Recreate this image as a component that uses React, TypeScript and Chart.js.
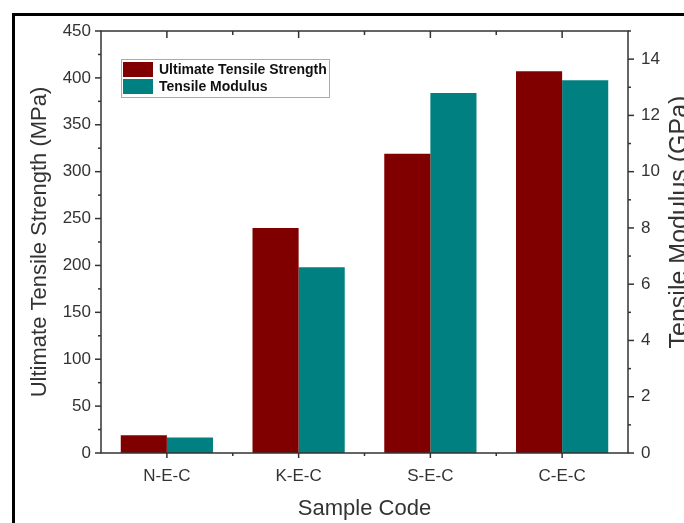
import { useEffect, useRef } from 'react';
import { Chart, registerables } from 'chart.js';

Chart.register(...registerables);

const CATEGORIES = ['N-E-C', 'K-E-C', 'S-E-C', 'C-E-C'];
const UTS_LABEL = 'Ultimate Tensile Strength';
const MODULUS_LABEL = 'Tensile Modulus';
const UTS_VALUES = [19, 240, 319, 407];
const MODULUS_VALUES = [0.55, 6.6, 12.8, 13.25];

const LEFT_TICKS = [0, 50, 100, 150, 200, 250, 300, 350, 400, 450];
const LEFT_MINOR = [25, 75, 125, 175, 225, 275, 325, 375, 425];
const RIGHT_TICKS = [0, 2, 4, 6, 8, 10, 12, 14];
const RIGHT_MINOR = [1, 3, 5, 7, 9, 11, 13, 15];

const LEFT_TITLE = 'Ultimate Tensile Strength (MPa)';
const RIGHT_TITLE = 'Tensile Modulus (GPa)';
const X_TITLE = 'Sample Code';

const RED = '#800000';
const TEAL = '#008080';
const AXIS = '#333333';
const TEXT = '#333333';
const FONT = "'Liberation Sans', Arial, sans-serif";

const framePlugin = {
  id: 'frameTicks',
  afterDatasetsDraw(chart: any) {
    const { ctx, chartArea, scales } = chart;
    const { left, right, top, bottom } = chartArea;
    ctx.save();
    ctx.strokeStyle = AXIS;
    ctx.lineWidth = 1.5;
    const line = (x1: number, y1: number, x2: number, y2: number) => {
      ctx.beginPath();
      ctx.moveTo(x1, y1);
      ctx.lineTo(x2, y2);
      ctx.stroke();
    };
    ctx.strokeRect(left, top, right - left, bottom - top);
    const y = scales.y;
    LEFT_TICKS.forEach((v) => { const p = y.getPixelForValue(v); line(left - 6, p, left, p); });
    LEFT_MINOR.forEach((v) => { const p = y.getPixelForValue(v); line(left - 3, p, left, p); });
    const y1 = scales.y1;
    RIGHT_TICKS.forEach((v) => { const p = y1.getPixelForValue(v); line(right, p, right + 6, p); });
    RIGHT_MINOR.forEach((v) => { const p = y1.getPixelForValue(v); line(right, p, right + 3, p); });
    const x = scales.x;
    CATEGORIES.forEach((_, i) => {
      const p = x.getPixelForValue(i);
      line(p, bottom, p, bottom + 5);
      line(p, top, p, top + 7);
    });
    for (let i = 0; i < CATEGORIES.length - 1; i++) {
      const p = x.getPixelForValue(i + 0.5);
      line(p, bottom, p, bottom + 3);
      line(p, top, p, top + 4);
    }

    // legend
    const bx = left + 20;
    const by = top + 28;
    ctx.lineWidth = 1;
    ctx.strokeStyle = '#aaaaaa';
    ctx.strokeRect(bx + 0.5, by + 0.5, 208, 38);
    ctx.font = `bold 14px ${FONT}`;
    ctx.textBaseline = 'middle';
    ctx.textAlign = 'left';
    chart.data.datasets.forEach((ds: any, i: number) => {
      const sy = by + 3 + i * 17;
      ctx.fillStyle = ds.backgroundColor;
      ctx.fillRect(bx + 2, sy, 30, 15);
      ctx.fillStyle = '#111111';
      ctx.fillText(ds.label, bx + 38, sy + 8);
    });

    // right axis title (reads bottom-to-top)
    ctx.save();
    ctx.translate(687, 222);
    ctx.rotate(-Math.PI / 2);
    ctx.font = `25px ${FONT}`;
    ctx.fillStyle = TEXT;
    ctx.textAlign = 'center';
    ctx.textBaseline = 'alphabetic';
    ctx.fillText(RIGHT_TITLE, 0, 0);
    ctx.restore();

    ctx.restore();
  },
};

export default function App() {
  const ref = useRef<HTMLCanvasElement | null>(null);

  useEffect(() => {
    if (!ref.current) return;
    const tickFont = { family: FONT, size: 17 };
    const titleFont = { family: FONT, size: 22 };
    const chart = new Chart(ref.current, {
      type: 'bar',
      data: {
        labels: CATEGORIES,
        datasets: [
          {
            label: UTS_LABEL,
            data: UTS_VALUES,
            backgroundColor: RED,
            yAxisID: 'y',
            categoryPercentage: 0.7,
            barPercentage: 1,
          },
          {
            label: MODULUS_LABEL,
            data: MODULUS_VALUES,
            backgroundColor: TEAL,
            yAxisID: 'y1',
            categoryPercentage: 0.7,
            barPercentage: 1,
          },
        ],
      },
      options: {
        animation: false,
        responsive: false,
        maintainAspectRatio: false,
        layout: { padding: { left: 0, right: 0, top: 31, bottom: 0 } },
        plugins: { legend: { display: false }, tooltip: { enabled: false } },
        scales: {
          x: {
            type: 'category',
            offset: true,
            grid: { display: false, drawTicks: false },
            border: { display: false },
            ticks: { font: tickFont, color: TEXT, padding: 13 },
            title: { display: true, text: X_TITLE, font: titleFont, color: TEXT, padding: { top: 0, bottom: 1 } },
            afterFit: (s: any) => { s.height = 70; },
          },
          y: {
            type: 'linear',
            position: 'left',
            min: 0,
            max: 450,
            afterBuildTicks: (s: any) => { s.ticks = LEFT_TICKS.map((v) => ({ value: v })); },
            grid: { display: false, drawTicks: false },
            border: { display: false },
            ticks: { font: tickFont, color: TEXT, padding: 10 },
            title: { display: true, text: LEFT_TITLE, font: titleFont, color: TEXT, padding: { top: 27, bottom: 0 } },
            afterFit: (s: any) => { s.width = 101; },
          },
          y1: {
            type: 'linear',
            position: 'right',
            min: 0,
            max: 15,
            afterBuildTicks: (s: any) => { s.ticks = RIGHT_TICKS.map((v) => ({ value: v })); },
            grid: { display: false, drawTicks: false },
            border: { display: false },
            ticks: { font: tickFont, color: TEXT, padding: 13 },
            afterFit: (s: any) => { s.width = 72; },
          },
        },
      } as any,
      plugins: [framePlugin],
    });
    return () => chart.destroy();
  }, []);

  return (
    <div style={{ position: 'fixed', left: 0, top: 0, width: 684, height: 523, overflow: 'hidden', background: '#fff' }}>
      <div
        style={{
          position: 'absolute',
          left: 12,
          top: 13,
          width: 800,
          height: 700,
          border: '3px solid #000',
          boxSizing: 'border-box',
        }}
      />
      <canvas ref={ref} width={700} height={523} style={{ position: 'absolute', left: 0, top: 0, width: 700, height: 523 }} />
    </div>
  );
}
